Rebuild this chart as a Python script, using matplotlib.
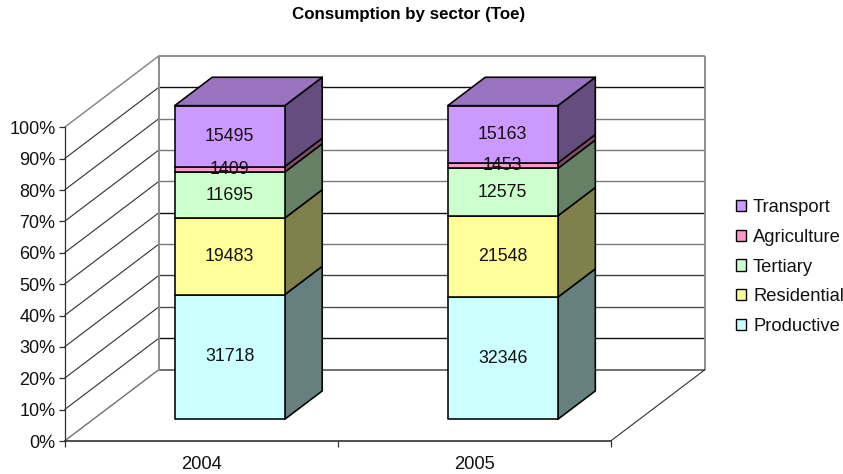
import numpy as np
import matplotlib
matplotlib.use('Agg')
import matplotlib.pyplot as plt
from matplotlib.patches import Polygon, Patch

plt.rcParams['font.family'] = ['Liberation Sans', 'DejaVu Sans']

# Dados
anos = ['2004', '2005']
setores = ['Productive', 'Residential', 'Tertiary', 'Agriculture', 'Transport']
productive = [31718, 32346]
residential = [19483, 21548]
tertiary = [11695, 12575]
agriculture = [1409, 1453]
transport = [15495, 15163]
cores = ['#CCFFFF', '#FFFF99', '#CCFFCC', '#FF99CC', '#CC99FF']
laterais = ['#668080', '#80804D', '#668066', '#804D66', '#664D80']
topo = '#9973BF'
# tom de cada linha da grade na parede do fundo (10% a 90%)
cores_grade = ['#111111', '#505050', '#404040', '#7A7A7A', '#111111',
               '#7A7A7A', '#7A7A7A', '#7A7A7A', '#111111']

valores = np.array([productive, residential, tertiary, agriculture, transport], dtype=float)
pct = valores / valores.sum(axis=0) * 100

W, H = 843, 474
fig = plt.figure(figsize=(W / 100, H / 100), dpi=100)
ax = fig.add_axes([64.5 / W, 1 - 441 / H, 546.2 / W, 313.7 / H])
ax.set_xlim(-0.5, 1.5)
ax.set_ylim(0, 100)

# Profundidade da caixa 3D em unidades dos dados
DX = 94.5 / 273.1
DY = 71.5 / 3.137


def proj(x, y, d):
    return (x + d * DX, y + d * DY)


def face(pontos, **kw):
    ax.add_patch(Polygon(pontos, closed=True, clip_on=False, **kw))


def linha(p0, p1, cor, lw):
    ax.plot([p0[0], p1[0]], [p0[1], p1[1]], color=cor, lw=lw, clip_on=False,
            solid_capstyle='butt', zorder=2)


# Paredes e grade
for k, g in enumerate(range(10, 100, 10)):
    linha(proj(-0.5, g, 0), proj(-0.5, g, 1), '#303030', 0.8)
    linha(proj(-0.5, g, 1), proj(1.5, g, 1), cores_grade[k], 1.0)
linha(proj(-0.5, 100, 0), proj(-0.5, 100, 1), '#808080', 1.0)
linha(proj(-0.5, 100, 1), proj(1.5, 100, 1), '#8C8C8C', 1.4)
linha(proj(-0.5, 0, 0), proj(-0.5, 0, 1), '#707070', 1.0)
linha(proj(-0.5, 0, 1), proj(1.5, 0, 1), '#707070', 1.4)
linha(proj(-0.5, 0, 1), proj(-0.5, 100, 1), '#8C8C8C', 1.4)
linha(proj(1.5, 0, 1), proj(1.5, 100, 1), '#8C8C8C', 1.4)
linha(proj(1.5, 0, 0), proj(1.5, 0, 1), '#303030', 0.8)

# Barras empilhadas
d0, d1 = 0.303, 0.70
larg = 0.2015
borda = dict(edgecolor='black', linewidth=1.15, joinstyle='round', zorder=3)
for j in range(len(anos)):
    base = 0
    for i in range(len(setores)):
        alt = pct[i, j]
        x0, x1 = j - larg, j + larg
        y0, y1 = base, base + alt
        face([proj(x1, y0, d0), proj(x1, y0, d1), proj(x1, y1, d1), proj(x1, y1, d0)],
             facecolor=laterais[i], **borda)
        face([proj(x0, y0, d0), proj(x1, y0, d0), proj(x1, y1, d0), proj(x0, y1, d0)],
             facecolor=cores[i], **borda)
        cx, cy = proj(j, y0 + alt / 2, d0)
        ax.text(cx, cy, f'{valores[i, j]:.0f}', ha='center', va='center',
                fontsize=12.8, color='#111111', zorder=5)
        base = y1
    face([proj(x0, 100, d0), proj(x1, 100, d0), proj(x1, 100, d1), proj(x0, 100, d1)],
         facecolor=topo, **borda)

# Eixos
for lado in ['top', 'right']:
    ax.spines[lado].set_visible(False)
ax.spines['left'].set_color('#303030')
ax.spines['left'].set_linewidth(0.9)
ax.spines['bottom'].set_color('#303030')
ax.spines['bottom'].set_linewidth(1.2)
ax.patch.set_visible(False)
ax.set_yticks(range(0, 101, 10))
ax.set_yticklabels([f'{g}%' for g in range(0, 101, 10)], fontsize=13, color='#111111')
ax.set_xticks([-0.5, 0.5, 1.5])
ax.set_xticklabels([])
ax.set_xticks([0, 1], minor=True)
ax.set_xticklabels(anos, minor=True, fontsize=13.2, color='#111111')
ax.tick_params(axis='x', which='major', length=4, width=0.9, color='#303030')
ax.tick_params(axis='x', which='minor', length=0, pad=10.5)
ax.tick_params(axis='y', length=4, width=0.9, color='#303030', pad=2.5)

fig.text(408.5 / W, 1 - 14.5 / H, 'Consumption by sector (Toe)', ha='center', va='center',
         fontsize=12.2, fontweight='bold', color='black')

# Legenda
handles = [Patch(facecolor=cores[i], edgecolor='black', linewidth=1.0, label=setores[i])
           for i in range(len(setores) - 1, -1, -1)]
fig.legend(handles=handles, loc='center left', bbox_to_anchor=(736 / W, 1 - 267 / H),
           frameon=False, fontsize=13.2, handlelength=0.57, handleheight=0.57,
           handletextpad=0.36, labelspacing=0.7, borderpad=0, borderaxespad=0,
           labelcolor='#111111')

plt.savefig('out.png', dpi=100)
